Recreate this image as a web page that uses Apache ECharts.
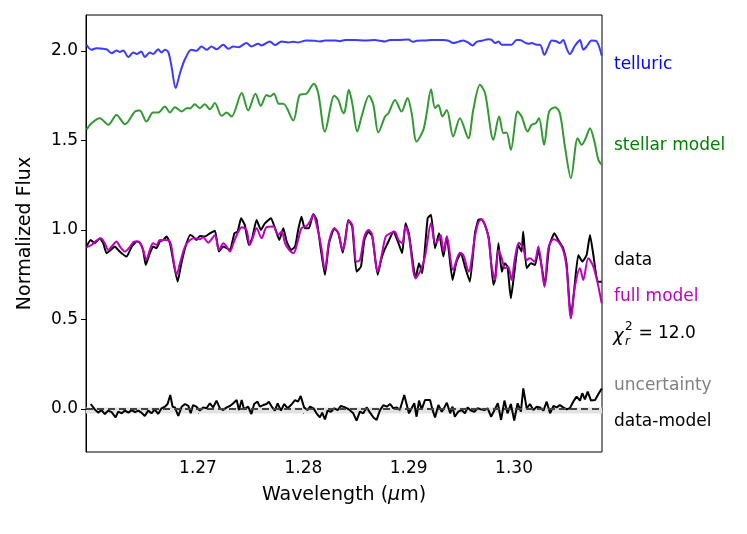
<!DOCTYPE html>
<html>
<head>
<meta charset="utf-8">
<script src="https://cdn.jsdelivr.net/npm/echarts@6/dist/echarts.min.js"></script>
<style>html,body{margin:0;padding:0;background:#fff;}#c{width:747px;height:534px;}</style>
</head>
<body>
<div id="c"></div>
<script>
// ---- data ----
var telluricWl = [1.25941,1.25989,1.26036,1.26100,1.26132,1.26180,1.26227,1.26259,1.26291,1.26339,1.26386,1.26418,1.26463,1.26495,1.26543,1.26574,1.26622,1.26654,1.26686,1.26718,1.26749,1.26788,1.26829,1.26877,1.26937,1.26985,1.27033,1.27081,1.27128,1.27176,1.27240,1.27288,1.27335,1.27383,1.27460,1.27507,1.27571,1.27603,1.27682,1.27730,1.27794,1.27857,1.27905,1.27950,1.28029,1.28109,1.28157,1.28205,1.28300,1.28348,
  1.28397,1.28489,1.28585,1.28680,1.28728,1.28776,1.28824,1.28903,1.28996,1.29043,1.29075,1.29155,1.29218,1.29314,1.29378,1.29422,1.29470,1.29518,1.29566,1.29607,1.29645,1.29693,1.29757,1.29788,1.29820,1.29852,1.29884,1.29929,1.29976,1.30024,1.30056,1.30104,1.30135,1.30167,1.30215,1.30247,1.30288,1.30326,1.30358,1.30406,1.30435,1.30467,1.30498,1.30530,1.30578,1.30610,1.30626,1.30658,1.30689,1.30737,1.30785,1.30833];
var telluricFlux = [2.034,2.006,2.015,2.011,2.009,1.987,2.002,1.993,2.002,1.965,1.991,1.982,1.996,1.965,1.991,1.982,2.009,1.991,2.006,1.993,1.912,1.792,1.875,1.954,2.006,2.000,2.024,2.006,2.024,2.009,2.034,2.011,2.024,2.020,2.043,2.024,2.039,2.030,2.052,2.032,2.052,2.047,2.050,2.047,2.058,2.056,2.052,2.058,2.058,2.054,
  2.061,2.061,2.058,2.061,2.056,2.052,2.061,2.061,2.063,2.050,2.056,2.058,2.061,2.060,2.056,2.043,2.050,2.058,2.046,2.030,2.050,2.056,2.065,2.061,2.043,2.052,2.034,2.034,2.034,2.061,2.061,2.046,2.039,2.043,2.034,2.034,1.978,2.024,2.058,2.052,2.043,2.061,2.015,1.982,2.028,2.052,2.061,2.006,2.024,2.058,2.052,1.972];

var stellarWl = [1.25941,1.25989,1.26068,1.26148,1.26227,1.26307,1.26402,1.26447,1.26511,1.26574,1.26622,1.26686,1.26734,1.26781,1.26845,1.26893,1.26925,1.26969,1.27017,1.27065,1.27113,1.27160,1.27224,1.27272,1.27319,1.27415,1.27476,1.27546,1.27596,1.27651,1.27682,1.27721,1.27768,1.27810,1.27905,1.27966,1.28029,1.28100,1.28141,1.28205,1.28294,1.28332,1.28380,
  1.28397,1.28432,1.28464,1.28512,1.28553,1.28623,1.28665,1.28712,1.28776,1.28808,1.28871,1.28932,1.28989,1.29028,1.29075,1.29139,1.29171,1.29212,1.29250,1.29282,1.29320,1.29362,1.29422,1.29486,1.29566,1.29613,1.29677,1.29725,1.29804,1.29858,1.29900,1.29929,1.29970,1.30034,1.30072,1.30129,1.30167,1.30206,1.30237,1.30285,1.30333,1.30390,1.30435,1.30483,1.30540,1.30604,1.30642,1.30680,1.30721,1.30763,1.30801,1.30833];
var stellarFlux = [1.559,1.596,1.624,1.587,1.642,1.590,1.661,1.667,1.605,1.655,1.655,1.689,1.655,1.685,1.661,1.680,1.678,1.702,1.680,1.702,1.674,1.708,1.637,1.655,1.633,1.764,1.667,1.760,1.693,1.754,1.745,1.760,1.704,1.704,1.611,1.754,1.760,1.816,1.764,1.549,1.749,1.726,1.652,
  1.670,1.782,1.708,1.549,1.633,1.749,1.698,1.544,1.633,1.652,1.726,1.661,1.736,1.652,1.493,1.559,1.652,1.786,1.680,1.698,1.633,1.670,1.521,1.624,1.512,1.670,1.810,1.764,1.503,1.633,1.540,1.544,1.447,1.661,1.633,1.549,1.587,1.596,1.624,1.475,1.661,1.685,1.652,1.466,1.289,1.512,1.475,1.512,1.568,1.493,1.391,1.363];

var dataWl = [1.25941,1.25982,1.26020,1.26068,1.26100,1.26132,1.26180,1.26211,1.26243,1.26275,1.26323,1.26371,1.26418,1.26447,1.26479,1.26504,1.26543,1.26574,1.26606,1.26638,1.26670,1.26702,1.26734,1.26775,1.26807,1.26839,1.26877,1.26925,1.26953,1.26985,1.27017,1.27065,1.27113,
  1.27161,1.27199,1.27241,1.27272,1.27304,1.27346,1.27377,1.27409,1.27444,1.27483,1.27514,1.27556,1.27597,1.27635,1.27693,1.27731,1.27772,1.27810,1.27842,1.27884,1.27922,1.27951,1.27982,1.28014,1.28053,1.28094,1.28126,1.28167,1.28205,1.28244,1.28294,1.28333,1.28374,
  1.28397,1.28426,1.28464,1.28505,1.28547,1.28579,1.28617,1.28655,1.28706,1.28738,1.28770,1.28808,1.28855,1.28903,1.28938,1.28970,1.29002,1.29066,1.29098,1.29129,1.29180,1.29212,1.29250,1.29288,1.29330,1.29362,1.29416,1.29454,1.29496,1.29534,1.29581,
  1.29629,1.29661,1.29693,1.29724,1.29763,1.29804,1.29820,1.29852,1.29884,1.29912,1.29938,1.29970,1.30002,1.30040,1.30072,1.30087,1.30119,1.30161,1.30199,1.30231,1.30294,1.30333,1.30383,1.30428,1.30466,1.30498,1.30540,1.30571,1.30610,1.30648,1.30689,1.30721,1.30753,1.30794,1.30832];
var dataFlux = [0.907,0.944,0.926,0.953,0.926,0.870,0.892,0.907,0.888,0.870,0.851,0.907,0.935,0.929,0.888,0.804,0.870,0.907,0.898,0.935,0.944,0.963,0.926,0.795,0.711,0.804,0.898,0.972,0.963,0.944,0.966,0.963,0.981,
  0.996,0.879,0.907,0.898,0.888,0.981,0.991,1.065,1.028,0.916,0.953,1.056,1.000,1.037,1.065,1.009,0.944,1.009,0.935,0.888,0.907,1.000,1.074,1.009,1.009,1.089,1.056,0.888,0.749,0.926,1.009,0.981,0.873,
  0.944,1.056,1.019,0.767,0.795,0.944,0.991,0.963,0.749,0.832,0.888,0.935,0.991,0.926,0.870,1.037,0.981,0.730,0.814,0.758,1.065,1.084,0.898,0.981,0.851,0.963,0.721,0.823,0.870,0.795,0.711,
  0.981,1.056,1.060,1.028,0.944,0.693,0.721,0.926,0.767,0.814,0.795,0.618,0.758,0.916,0.879,0.991,0.786,0.814,0.804,0.888,0.693,0.907,0.981,0.935,0.898,0.814,0.507,0.665,0.860,0.823,0.860,0.972,0.860,0.711,0.711];

var modelWl = [1.25941,1.25989,1.26036,1.26078,1.26116,1.26148,1.26180,1.26227,1.26259,1.26307,1.26355,1.26396,1.26434,1.26469,1.26511,1.26543,1.26574,1.26606,1.26638,1.26686,1.26734,1.26765,1.26797,1.26829,1.26877,1.26925,1.26969,1.27017,1.27049,1.27097,1.27128,
  1.27161,1.27199,1.27241,1.27272,1.27304,1.27336,1.27384,1.27416,1.27460,1.27492,1.27524,1.27556,1.27604,1.27651,1.27715,1.27763,1.27795,1.27826,1.27865,1.27906,1.27947,1.27982,1.28030,1.28062,1.28094,1.28126,1.28167,1.28205,1.28244,1.28294,1.28333,1.28374,
  1.28397,1.28432,1.28464,1.28505,1.28537,1.28579,1.28617,1.28649,1.28706,1.28744,1.28782,1.28824,1.28865,1.28903,1.28938,1.28970,1.29002,1.29066,1.29107,1.29155,1.29212,1.29250,1.29282,1.29304,1.29330,1.29362,1.29422,1.29486,1.29518,1.29572,1.29597,
  1.29629,1.29661,1.29693,1.29724,1.29756,1.29788,1.29820,1.29852,1.29884,1.29912,1.29944,1.29976,1.30008,1.30046,1.30087,1.30119,1.30151,1.30193,1.30231,1.30288,1.30326,1.30374,1.30419,1.30466,1.30498,1.30540,1.30578,1.30626,1.30657,1.30705,1.30753,1.30801,1.30832];
var modelFlux = [0.903,0.916,0.940,0.953,0.926,0.888,0.907,0.935,0.907,0.879,0.907,0.935,0.935,0.907,0.836,0.888,0.926,0.916,0.944,0.944,0.935,0.842,0.749,0.814,0.907,0.944,0.953,0.948,0.959,0.929,0.948,
  0.972,0.888,0.926,0.907,0.879,0.926,0.991,1.015,1.000,0.916,0.963,1.009,0.953,1.015,1.019,0.972,0.991,0.926,0.888,0.870,0.935,1.009,1.022,1.047,1.084,1.028,0.916,0.777,0.935,1.009,0.981,0.888,
  0.935,1.052,1.028,0.823,0.832,0.963,1.000,0.981,0.767,0.860,0.963,0.981,0.991,0.944,0.926,1.019,0.963,0.730,0.767,0.851,1.037,0.926,0.944,0.972,0.879,0.963,0.777,0.873,0.860,0.767,0.832,
  0.963,1.041,1.060,1.028,0.963,0.795,0.721,0.888,0.842,0.786,0.795,0.721,0.842,0.929,0.898,0.832,0.842,0.823,0.907,0.683,0.898,0.948,0.935,0.888,0.795,0.507,0.683,0.786,0.721,0.842,0.795,0.683,0.590];

var residWl = [1.25982,1.26020,1.26052,1.26084,1.26116,1.26148,1.26180,1.26218,1.26243,1.26275,1.26307,1.26339,1.26371,1.26402,1.26434,1.26463,1.26495,1.26527,1.26559,1.26590,1.26622,1.26654,1.26686,1.26711,1.26737,1.26759,1.26781,1.26813,1.26845,1.26877,1.26909,1.26931,1.26953,1.26985,1.27017,1.27049,1.27081,1.27113,1.27144,1.27176,1.27208,1.27240,1.27272,1.27303,1.27335,1.27367,1.27389,1.27415,1.27437,1.27476,1.27507,1.27533,1.27565,1.27587,1.27619,1.27651,1.27673,1.27705,1.27730,1.27756,1.27787,1.27819,1.27851,1.27883,1.27921,1.27950,1.27975,1.28007,1.28039,1.28064,1.28096,1.28125,1.28157,1.28179,1.28205,1.28230,1.28262,1.28294,1.28326,1.28357,
  1.28397,1.28432,1.28474,1.28505,1.28537,1.28569,1.28601,1.28633,1.28665,1.28696,1.28728,1.28760,1.28792,1.28824,1.28855,1.28887,1.28916,1.28958,1.28980,1.29002,1.29028,1.29053,1.29075,1.29098,1.29123,1.29155,1.29203,1.29225,1.29250,1.29282,1.29314,1.29339,1.29362,1.29394,1.29416,1.29438,1.29470,1.29502,1.29534,1.29559,1.29591,1.29623,1.29655,1.29686,1.29718,1.29750,1.29782,1.29814,1.29846,1.29877,1.29909,1.29938,1.29970,1.30002,1.30034,1.30065,1.30088,1.30120,1.30151,1.30183,1.30215,1.30247,1.30279,1.30310,1.30342,1.30374,1.30406,1.30435,1.30467,1.30498,1.30530,1.30562,1.30594,1.30626,1.30648,1.30673,1.30699,1.30731,1.30769,1.30801,1.30833];
var residFlux = [0.028,-0.002,-0.020,-0.006,-0.028,-0.009,-0.017,-0.047,-0.015,-0.024,-0.009,-0.020,-0.006,-0.017,-0.009,-0.020,-0.039,-0.009,-0.024,-0.002,-0.028,0.004,0.013,0.028,0.078,0.013,0.009,-0.039,0.013,0.028,0.017,-0.024,0.022,0.013,-0.009,0.009,0.004,0.032,0.009,0.047,0.004,-0.006,0.009,0.017,0.032,0.050,-0.006,0.050,-0.002,0.013,-0.028,0.028,0.041,0.013,0.022,0.028,0.041,0.009,-0.009,0.032,-0.009,0.028,0.004,0.022,0.050,0.041,0.073,0.009,-0.006,0.013,0.004,-0.024,-0.047,-0.020,-0.058,-0.009,-0.015,0.004,-0.006,0.017,
  0.009,-0.002,-0.024,-0.065,-0.015,-0.024,0.009,-0.020,-0.047,-0.061,-0.006,0.022,0.013,0.028,0.004,0.009,-0.006,0.078,0.028,-0.024,0.004,0.032,-0.043,0.047,-0.002,0.050,0.050,-0.002,-0.047,0.022,-0.015,0.009,0.035,-0.024,0.013,-0.043,-0.015,-0.006,-0.024,0.009,-0.009,-0.015,0.004,-0.002,-0.006,0.004,-0.043,-0.006,0.032,-0.061,0.047,-0.024,0.028,-0.065,0.032,-0.015,0.115,0.004,0.028,-0.006,0.013,0.009,-0.009,0.041,-0.024,0.017,0.009,0.022,0.009,-0.002,0.004,0.041,0.069,0.047,0.088,0.054,0.097,0.047,0.050,0.084,0.115];

var uncertWl = [1.25937, 1.30835];
var uncertFlux = [-0.008, -0.008];

var xTicks = [1.27, 1.28, 1.29, 1.30];
var yTicks = [0.0, 0.5, 1.0, 1.5, 2.0];

function pairs(xs, ys) { return xs.map(function (x, i) { return [x, ys[i]]; }); }

var FONT = 'DejaVu Sans';
var chart = echarts.init(document.getElementById('c'), null, { renderer: 'canvas' });

var txt = function (x, y, s, color, font) {
  return { type: 'text', x: x, y: y, silent: true,
    style: { text: s, fill: color, font: font || '17px "DejaVu Sans"', verticalAlign: 'middle', align: 'left' } };
};

var option = {
  animation: false,
  backgroundColor: '#fff',
  grid: { left: 86, right: 145, top: 15, bottom: 82, show: true, borderColor: '#000', borderWidth: 1, backgroundColor: 'transparent' },
  xAxis: {
    type: 'value', min: 1.25937, max: 1.30835,
    name: 'Wavelength ({i|μ}m)', nameLocation: 'middle', nameGap: 43,
    nameTextStyle: { fontFamily: FONT, fontSize: 19, color: '#000', verticalAlign: 'middle',
      rich: { i: { fontFamily: FONT, fontSize: 19, fontStyle: 'italic', color: '#000' } } },
    axisLine: { show: true, lineStyle: { color: '#000', width: 1 } },
    axisTick: { show: true, length: 5, lineStyle: { color: '#000' }, customValues: xTicks },
    axisLabel: { fontFamily: FONT, fontSize: 17, color: '#000', margin: 8, customValues: xTicks, formatter: function (v) { return v.toFixed(2); } },
    splitLine: { show: false }
  },
  yAxis: {
    type: 'value', min: -0.24, max: 2.2,
    name: 'Normalized Flux', nameLocation: 'middle', nameGap: 61,
    nameTextStyle: { fontFamily: FONT, fontSize: 19, color: '#000', verticalAlign: 'middle' },
    axisLine: { show: true, lineStyle: { color: '#000', width: 1 } },
    axisTick: { show: true, length: 5, lineStyle: { color: '#000' }, customValues: yTicks },
    axisLabel: { fontFamily: FONT, fontSize: 17, color: '#000', margin: 8, customValues: yTicks, formatter: function (v) { return v.toFixed(1); } },
    splitLine: { show: false }
  },
  series: [
    { name: 'telluric', type: 'line', data: pairs(telluricWl, telluricFlux), showSymbol: false, smooth: 0.3, lineStyle: { color: '#3b3bff', width: 2 }, z: 2 },
    { name: 'stellar model', type: 'line', data: pairs(stellarWl, stellarFlux), showSymbol: false, smooth: 0.3, lineStyle: { color: '#339933', width: 2 }, z: 2 },
    { name: 'data', type: 'line', data: pairs(dataWl, dataFlux), showSymbol: false, smooth: 0.15, lineStyle: { color: '#000', width: 2 }, z: 3 },
    { name: 'full model', type: 'line', data: pairs(modelWl, modelFlux), showSymbol: false, smooth: 0.3, lineStyle: { color: '#c000c0', width: 2 }, z: 4 },
    { name: 'uncertainty', type: 'line', data: pairs(uncertWl, uncertFlux), showSymbol: false, lineStyle: { color: '#e2e2e2', width: 6 }, z: 2 },
    { name: 'data-model', type: 'line', data: pairs(residWl, residFlux), showSymbol: false, lineStyle: { color: '#000', width: 2 }, z: 3,
      markLine: { silent: true, symbol: 'none', label: { show: false }, lineStyle: { color: '#444', type: [7, 4], width: 2 }, data: [{ yAxis: 0 }] } }
  ],
  graphic: [
    txt(614, 65, 'telluric', '#0000ff'),
    txt(614, 146, 'stellar model', '#008000'),
    txt(614, 261, 'data', '#000'),
    txt(614, 297, 'full model', '#bf00bf'),
    txt(613, 336, 'χ', '#000', 'italic 18px "DejaVu Sans"'),
    txt(625, 327, '2', '#000', '12px "DejaVu Sans"'),
    txt(625, 342, 'r', '#000', 'italic 12px "DejaVu Sans"'),
    txt(633, 334, ' = 12.0', '#000'),
    txt(614, 386, 'uncertainty', '#808080'),
    txt(614, 422, 'data-model', '#000')
  ]
};
chart.setOption(option);
</script>
</body>
</html>
